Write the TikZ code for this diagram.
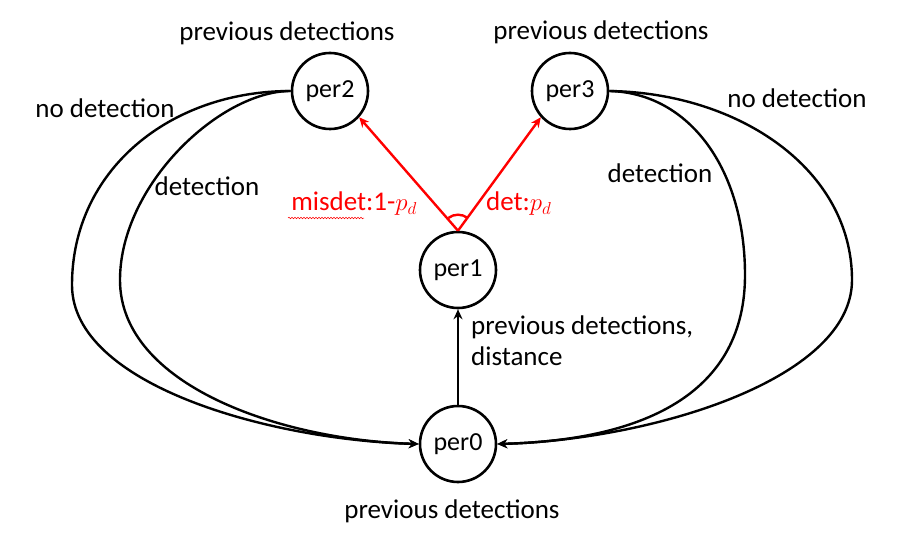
\documentclass[tikz,border=0pt]{standalone}
\usepackage{fontspec}
\setmainfont{Carlito}
\usetikzlibrary{arrows.meta,decorations.pathmorphing}
\begin{document}
\begin{tikzpicture}[x=1pt,y=-1pt,
  state/.style={circle,draw,line width=2.6pt,minimum size=76pt,inner sep=0pt,font=\fontsize{26}{30}\selectfont},
  lbl/.style={font=\fontsize{27}{31}\selectfont,inner sep=0pt},
  rlbl/.style={lbl,text=red},
  conn/.style={line width=2.4pt,-{Stealth[length=10pt,width=9pt]}},
  rconn/.style={conn,draw=red}]
\useasboundingbox (0,0) rectangle (907,540);
\node[state] (p2) at (330,91) {per2};
\node[state] (p3) at (570,91) {per3};
\node[state] (p1) at (458,270) {per1};
\node[state] (p0) at (458,444) {per0};
\coordinate (apex) at (p1.north);
\draw[rconn] (apex) -- (p2.-42);
\draw[rconn] (apex) -- (p3.222);
\draw[red,line width=2.4pt] ([shift={(53:16pt)}]apex) arc[start angle=53,end angle=127,radius=16pt];
\draw[conn] (p0) -- (p1);
\draw[conn] (p2.west) .. controls (170,91) and (72,170) .. (72,285) .. controls (72,385) and (270,440) .. (p0.west);
\draw[conn] (p2.west) .. controls (220,91) and (120,185) .. (120,280) .. controls (120,385) and (280,440) .. (p0.west);
\draw[conn] (p3.east) .. controls (690,93) and (745,170) .. (745,275) .. controls (745,390) and (650,440) .. (p0.east);
\draw[conn] (p3.east) .. controls (740,93) and (852,170) .. (852,280) .. controls (852,380) and (650,440) .. (p0.east);
\node[lbl] (t2) at (287,33) {previous detections};
\node[lbl] (t3) at (601,32) {previous detections};
\node[lbl] (t0) at (452,511) {previous detections};
\node[lbl] (nd1) at (105,108) {no detection};
\node[lbl] (nd2) at (797,98) {no detection};
\node[lbl] (d1) at (207,186) {detection};
\node[lbl] (d2) at (660,173) {detection};
\node[lbl,anchor=north west,align=left] (pd) at (471,316) {previous detections,\\distance};
\node[rlbl,anchor=east] (md) at (417,204) {misdet:1-$p_d$};
\node[rlbl,anchor=west] (dt) at (486,204) {det:$p_d$};
\draw[red,line width=0.5pt,decorate,decoration={snake,amplitude=0.8pt,segment length=3pt}] (288,218) -- (364,218);
\end{tikzpicture}
\end{document}
